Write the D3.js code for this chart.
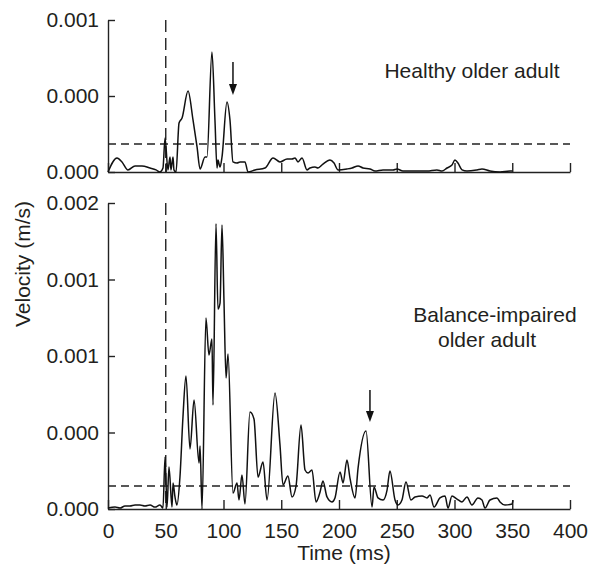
<!DOCTYPE html>
<html lang="en">
<head>
  <meta charset="UTF-8">
  <title>Velocity traces</title>
  <script src="https://d3js.org/d3.v7.min.js"></script>
  <style>
    body { margin: 0; background: #fff; }
    text { font-family: "Liberation Sans", Arial, Helvetica, sans-serif; fill: #231f20; }
    .trace { fill: none; stroke: #111; stroke-width: 1.5; stroke-linejoin: round; }
    .axis path, .axis line { stroke: #222; stroke-width: 1.4; }
    .dash { stroke: #222; stroke-width: 1.4; }
  </style>
</head>
<body>
<svg id="chart" width="594" height="566"></svg>
<script>
  // time (ms) and velocity (m/s)
  const healthyTime = [0, 7.8, 12.1, 17.3, 23.4, 29.4, 36.4, 41.6, 45, 47.6, 49.4, 51.9, 53.7, 54.5, 56.3, 57.1, 58.9,
    61.5, 64.1, 69.3, 73.6, 77.1, 79.7, 84, 85.7, 90, 92.6, 94.4, 95.2, 97, 98.7, 103, 105.6, 108.2, 111.7, 114.3,
    118.6, 121.2, 127.3, 135.9, 142.9, 148.9, 155, 159.3, 161.9, 164.5, 168, 172.3, 174.9, 179.2, 181.8, 186.1,
    192.2, 195.7, 199.1, 206.9, 211.3, 216.5, 220.8, 226.8, 231.2, 238.1, 246.8, 250.2, 255.4, 267.5, 276.2,
    284.8, 289.2, 293.5, 297.8, 300.4, 303, 306.5, 310.8, 319.5, 323.8, 330.7, 339.4, 348, 350];
  const healthyVel = [0, 0.000074, 0.000053, 0.000011, 0.000032, 0.000032, 0.000021, 0.000011, 0, 0.000021, 0.000179,
    0.000011, 0.000079, 0.000011, 0.000079, 0.000011, 0, 0.000258, 0.000284, 0.000426, 0.000274, 0.000132,
    0.000016, 0.000079, 0.000079, 0.000631, 0.000274, 0.000021, 0.000063, 0.000026, 0.000079, 0.000368,
    0.000274, 0.000053, 0.000047, 0.000053, 0.000053, 0, 0.000011, 0.000021, 0.000074, 0.000053, 0.000068,
    0.000068, 0.000074, 0.000053, 0.000074, 0.000011, 0.000021, 0.000026, 0.000021, 0.000042, 0.000063,
    0.000047, 0.000011, 0.000016, 0.000021, 0.000032, 0.000021, 0.000016, 0.000005, 0.000011, 0.000011,
    0.000016, 0.000005, 0.000005, 0.000005, 0.000011, 0.000005, 0.000021, 0.000037, 0.000063, 0.000047,
    0.000011, 0.000005, 0.000011, 0.000016, 0.000005, 0, 0.000005, 0.000005];

  const impairedTime = [0, 6.1, 10.4, 14.7, 19, 23.4, 27.7, 32, 36.4, 40.7, 45, 47.6, 49.4, 51.1, 52.8, 55.4, 56.3,
    58, 59.7, 62.3, 64.9, 67.5, 71, 74.5, 78.8, 79.7, 81.4, 84.8, 87.4, 90, 90.9, 93.5, 95.2, 97, 98.7, 100.4,
    102.2, 103.9, 108.2, 111.7, 113.4, 116, 118.6, 122.9, 126.4, 129.9, 134.2, 137.7, 144.6, 148.9, 151.5,
    155.8, 159.3, 162.8, 167.1, 170.6, 173.2, 176.6, 180.1, 183.6, 186.1, 189.6, 193.9, 196.5, 200.9, 203.5,
    206.9, 209.5, 213.9, 216.5, 223.4, 228.6, 230.3, 233.8, 238.1, 241.6, 244.1, 248.5, 251.1, 254.5, 258,
    262.3, 265.8, 271.9, 276.2, 278.8, 282.3, 287.4, 291.8, 294.4, 297.8, 302.2, 306.5, 310.8, 315.1, 320.3,
    323.8, 326.4, 330.7, 336.8, 339.4, 343.7, 349.8, 350.6];
  const impairedVel = [0.000005, 0.00001, 0.000005, 0.000016, 0.000016, 0.000021, 0.000021, 0.000016, 0.000021,
    0.00001, 0.000021, 0.000005, 0.000272, 0.00001, 0.00022, 0.00001, 0.000136, 0.000063, 0.000021, 0.000167,
    0.000481, 0.000696, 0.000314, 0.00057, 0.000241, 0.00033, 0, 0.000999, 0.000805, 0.000889, 0.000544,
    0.001491, 0.001046, 0.001077, 0.001485, 0.001093, 0.000685, 0.000811, 0.000084, 0.000136, 0.000047,
    0.000178, 0.000026, 0.000507, 0.000471, 0.000167, 0.000246, 0.000047, 0.000607, 0.000335, 0.000126,
    0.000173, 0.000063, 0.00012, 0.000439, 0.000204, 0.000188, 0.000204, 0.000037, 0.000089, 0.000146,
    0.000063, 0.000037, 0.000058, 0.000194, 0.000136, 0.000256, 0.000162, 0.000058, 0.000214, 0.000408,
    0.00001, 0.000115, 0.000058, 0.000047, 0.000099, 0.000199, 0.000047, 0.000021, 0.000047, 0.000141,
    0.000047, 0.000063, 0.000068, 0.000058, 0.000073, 0.00001, 0.000058, 0.000068, 0.000005, 0.000068,
    0.000052, 0.000037, 0.000063, 0.000021, 0.000058, 0.000047, 0.000005, 0.000047, 0.000058, 0.000037,
    0.000021, 0.000026, 0.000047];

  const xTicks = [0, 50, 100, 150, 200, 250, 300, 350, 400];
  const topTicks = [0, 0.0004, 0.0008];
  const topLabels = ['0.000', '0.000', '0.001'];
  const bottomTicks = [0, 0.0004, 0.0008, 0.0012, 0.0016];
  const bottomLabels = ['0.000', '0.000', '0.001', '0.001', '0.002'];

  const onsetTime = 50;
  const thresholds = [0.000147, 0.00012];      // top, bottom
  const arrowTime = [108.2, 226.8];
  const arrowFrom = [0.000579, 0.000622];
  const arrowTo = [0.000405, 0.000455];

  const svg = d3.select('#chart');
  const x = d3.scaleLinear().domain([0, 400]).range([108, 570]);
  const yTop = d3.scaleLinear().domain([0, 0.0008]).range([172, 20]);
  const yBot = d3.scaleLinear().domain([0, 0.0016]).range([509, 203]);

  const drawPanel = (y, ticks, labels, times, vels, thr, i, showX) => {
    // y axis, ticks inward
    svg.append('g').attr('class', 'axis')
      .attr('transform', `translate(${x(0)},0)`)
      .call(d3.axisLeft(y).tickValues(ticks).tickSizeInner(-7).tickSizeOuter(0).tickPadding(9)
        .tickFormat((d, k) => labels[k]))
      .call(g => g.selectAll('text').style('font-size', '21px').attr('fill', '#231f20'));

    // x axis, ticks inward
    const xa = svg.append('g').attr('class', 'axis')
      .attr('transform', `translate(0,${y(0)})`)
      .call(d3.axisBottom(x).tickValues(xTicks).tickSizeInner(-9).tickSizeOuter(0).tickPadding(14)
        .tickFormat(showX ? d3.format('d') : ''));
    xa.selectAll('text').style('font-size', '21px').attr('fill', '#231f20');

    // onset and threshold lines
    svg.append('line').attr('class', 'dash')
      .attr('x1', x(onsetTime)).attr('x2', x(onsetTime))
      .attr('y1', y.range()[1]).attr('y2', y(0))
      .attr('stroke-dasharray', '12,6');
    svg.append('line').attr('class', 'dash')
      .attr('x1', x(0)).attr('x2', x(400))
      .attr('y1', y(thr)).attr('y2', y(thr))
      .attr('stroke-dasharray', '8,5');

    const pts = times.map((t, k) => [t, vels[k]]);
    svg.append('path').attr('class', 'trace')
      .attr('d', d3.line().x(d => x(d[0])).y(d => y(d[1])).curve(d3.curveMonotoneX)(pts));

    // arrow
    const ax = x(arrowTime[i]), a0 = y(arrowFrom[i]), a1 = y(arrowTo[i]);
    svg.append('line').attr('x1', ax).attr('x2', ax).attr('y1', a0).attr('y2', a1 - 8)
      .attr('stroke', '#111').attr('stroke-width', 1.5);
    svg.append('path').attr('d', `M${ax - 4},${a1 - 11} L${ax + 4},${a1 - 11} L${ax},${a1} Z`)
      .attr('fill', '#111');
  };

  drawPanel(yTop, topTicks, topLabels, healthyTime, healthyVel, thresholds[0], 0, false);
  drawPanel(yBot, bottomTicks, bottomLabels, impairedTime, impairedVel, thresholds[1], 1, true);

  // panel labels
  svg.append('text').attr('x', 472).attr('y', 78).attr('text-anchor', 'middle')
    .style('font-size', '21px').text('Healthy older adult');
  svg.append('text').attr('x', 495).attr('y', 322).attr('text-anchor', 'middle')
    .style('font-size', '21px').text('Balance-impaired');
  svg.append('text').attr('x', 487).attr('y', 347).attr('text-anchor', 'middle')
    .style('font-size', '21px').text('older adult');

  // axis titles
  svg.append('text').attr('transform', 'translate(30,264) rotate(-90)').attr('text-anchor', 'middle')
    .style('font-size', '21px').text('Velocity (m/s)');
  svg.append('text').attr('x', 344).attr('y', 560).attr('text-anchor', 'middle')
    .style('font-size', '21px').text('Time (ms)');
</script>
</body>
</html>
